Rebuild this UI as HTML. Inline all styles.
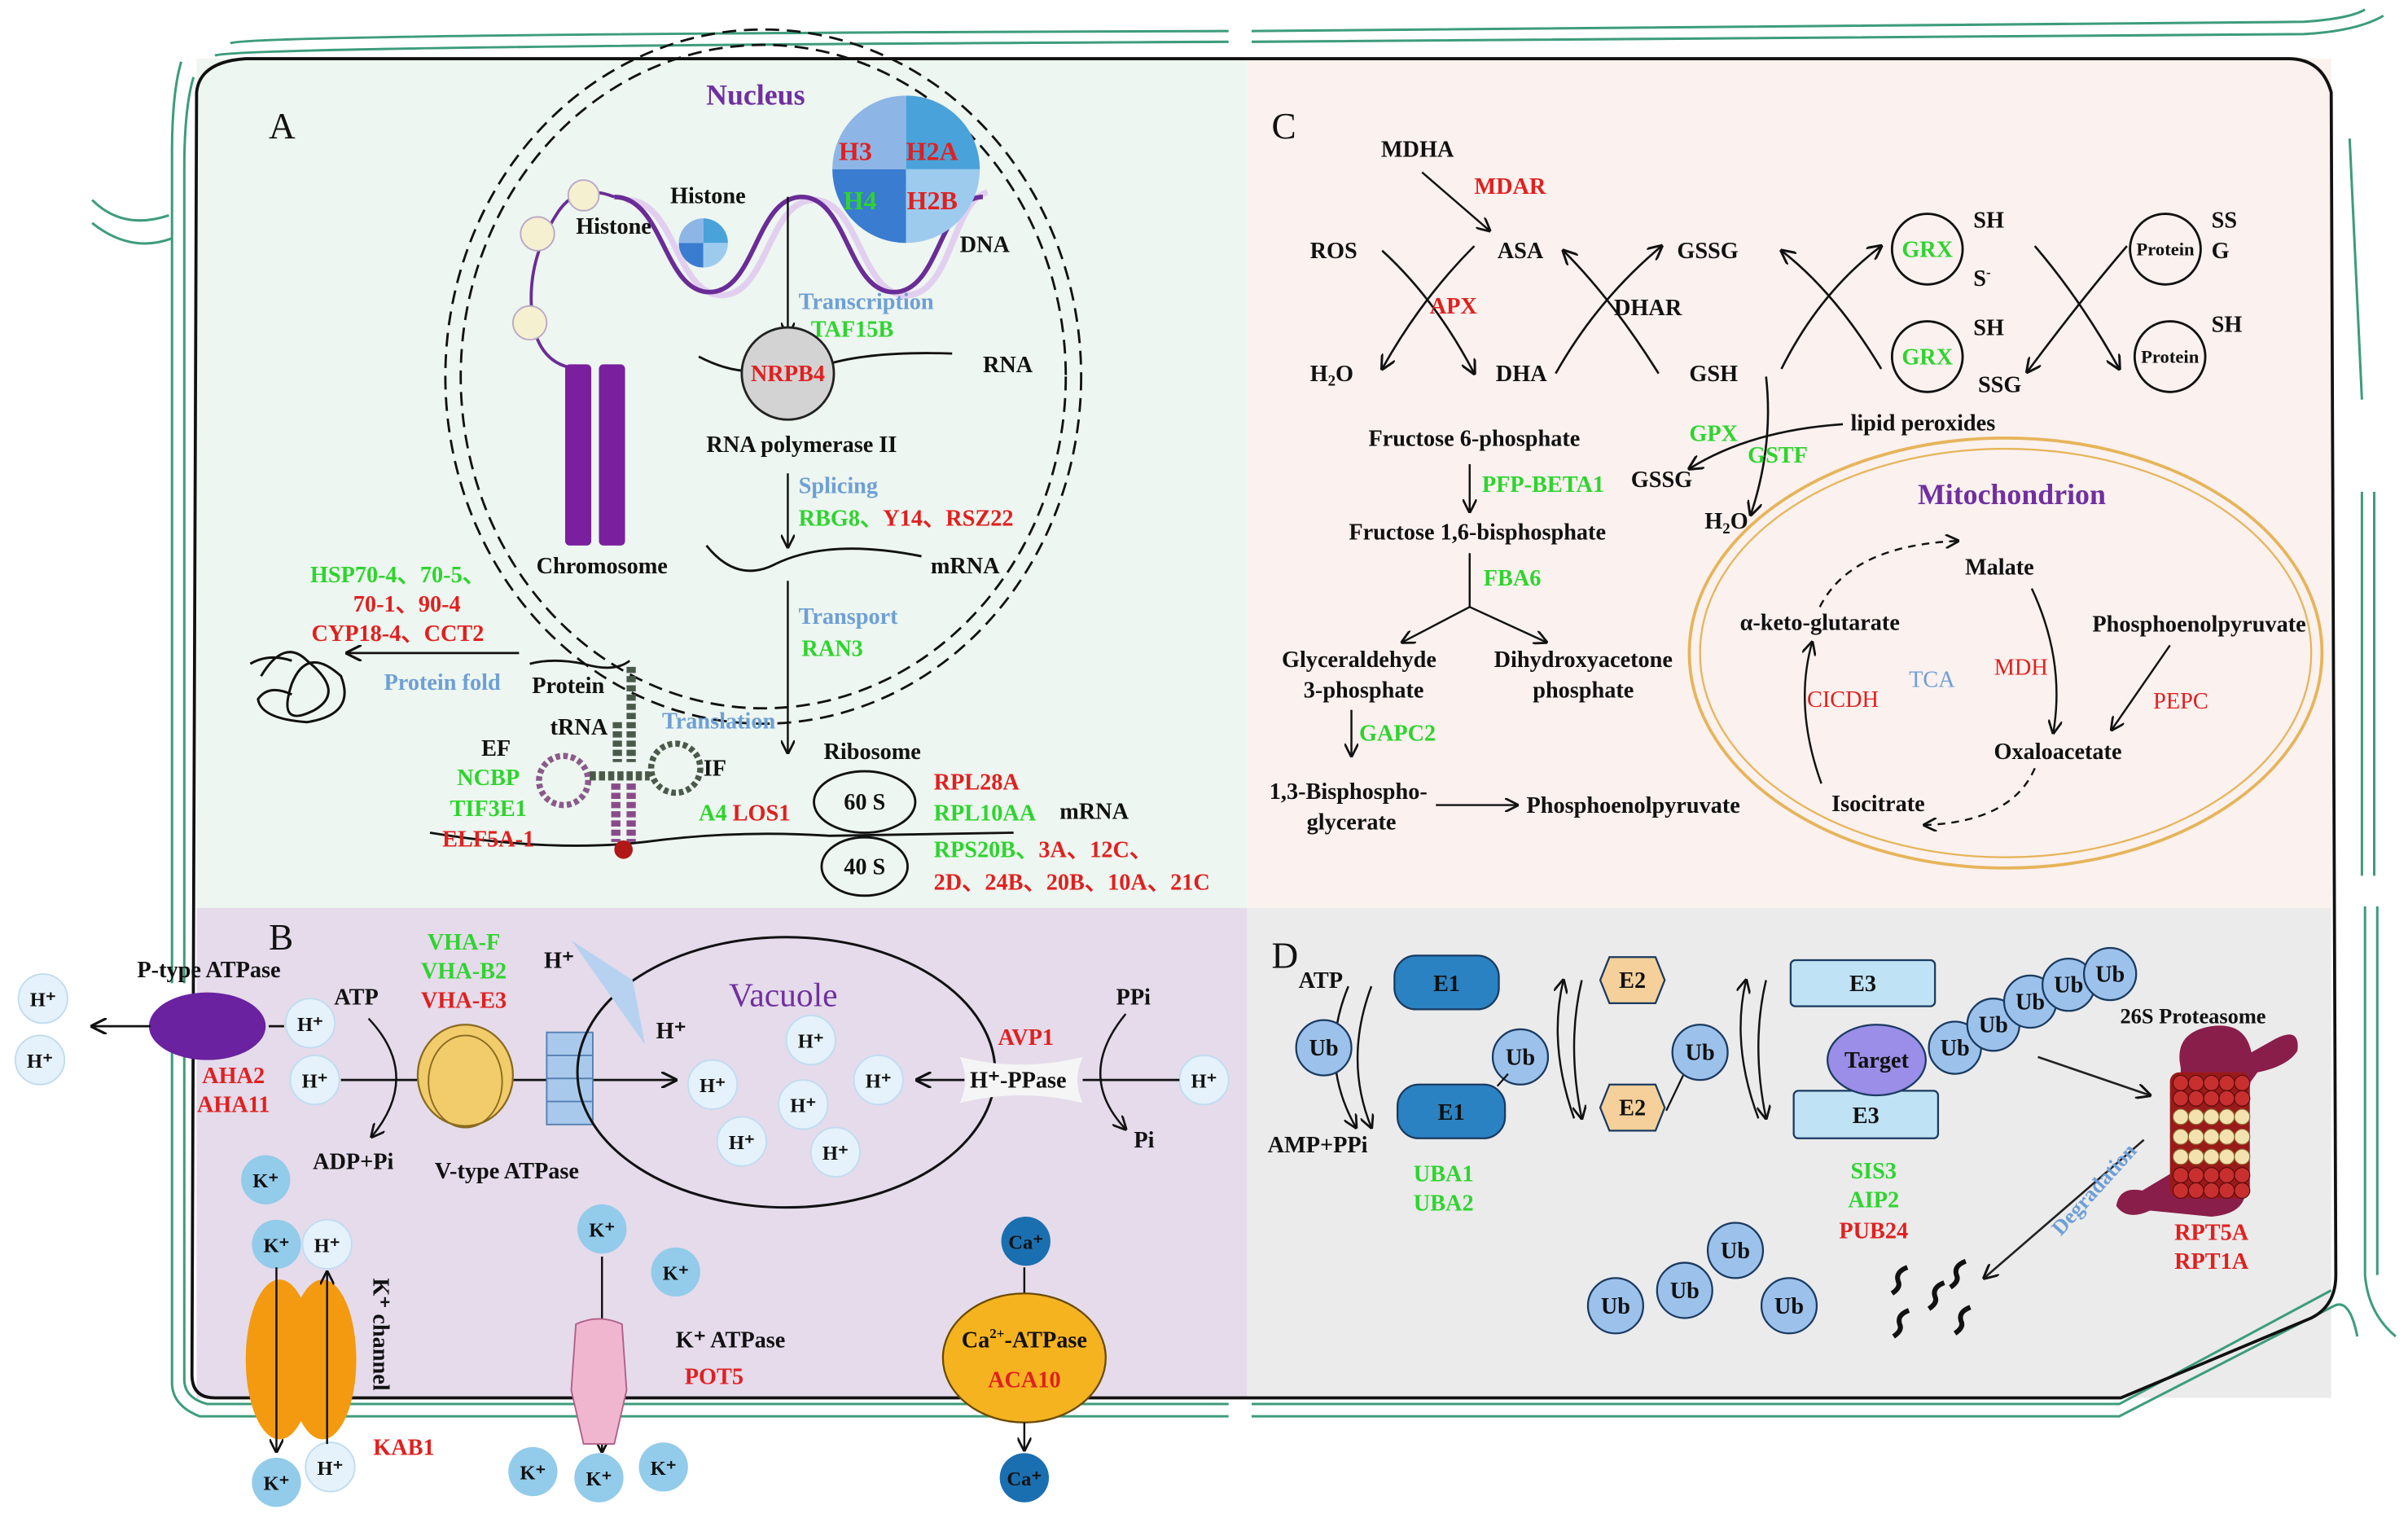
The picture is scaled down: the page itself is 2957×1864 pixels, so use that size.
<!DOCTYPE html>
<html><head><meta charset="utf-8"><style>
html,body{margin:0;padding:0;background:#fff}
svg{display:block}
text{font-family:"Liberation Serif",serif;font-weight:bold;font-size:15px;fill:#111}
.g{fill:#2ed42e}.r{fill:#e0201f}.b{fill:#6e9fd6}.p{fill:#7030a0}
.n{font-weight:normal}
</style></head><body>
<svg width="2957" height="1864" viewBox="0 0 1568 988" xmlns="http://www.w3.org/2000/svg">
<defs>
<marker id="ar" viewBox="0 0 10 10" refX="9" refY="5" markerWidth="7" markerHeight="7" orient="auto-start-reverse"><path d="M0,0 L10,5 L0,10" fill="none" stroke="#111" stroke-width="1.6"/></marker>
</defs>
<rect x="128" y="38" width="684" height="553" fill="#edf6f0"/>
<rect x="812" y="38" width="706" height="553" fill="#fbf1ee"/>
<rect x="128" y="591" width="684" height="319" fill="#e5dbeb"/>
<rect x="812" y="591" width="706" height="319" fill="#ebebeb"/>
<g fill="none" stroke="#3d9c7c" stroke-width="1.6">
<path d="M150,28 Q160,22 800,20"/><path d="M140,36 Q150,30 800,27"/>
<path d="M815,20 L1500,14 Q1530,12 1540,6"/><path d="M815,27 L1500,22 Q1535,20 1552,10"/>
<path d="M118,40 Q112,60 112,100 L112,640"/><path d="M126,50 Q120,70 120,110 L120,640"/>
<path d="M112,660 L112,900 Q112,915 130,922 L800,922"/><path d="M120,660 L120,898 Q120,910 135,914 L800,914"/>
<path d="M815,914 L1380,914 L1518,840"/><path d="M815,922 L1380,922 L1520,850 Q1530,845 1535,870"/>
<path d="M1530,90 L1538,260"/><path d="M1538,320 L1538,570"/><path d="M1546,320 L1546,570"/>
<path d="M1540,590 L1540,830 Q1542,855 1560,870"/><path d="M1548,590 L1548,830"/>
<path d="M60,130 Q80,150 110,140"/><path d="M60,145 Q85,165 112,155"/>
</g>
<path d="M128,60 Q130,40 160,38 L1490,38 Q1512,38 1518,60 L1521,830 Q1521,850 1505,858 L1381,910 L140,910 Q125,910 125,895 Z" fill="none" stroke="#111" stroke-width="2"/>

<!-- ============ PANEL A ============ -->
<text x="175" y="90" class="n" style="font-size:24px">A</text>
<ellipse cx="497" cy="245" rx="207" ry="226" fill="none" stroke="#111" stroke-width="1.5" stroke-dasharray="9,5"/>
<ellipse cx="497" cy="245" rx="197" ry="216" fill="none" stroke="#111" stroke-width="1.5" stroke-dasharray="9,5"/>
<text x="492" y="68" text-anchor="middle" class="p" style="font-size:19px">Nucleus</text>
<path d="M408,130 C440,130 440,192 470,192 C500,192 500,130 530,130 C560,130 560,192 590,192 C620,192 620,130 643,125" fill="none" stroke="#e2cff0" stroke-width="4"/>
<path d="M400,128 C432,128 432,190 462,190 C492,190 492,128 522,128 C552,128 552,190 582,190 C612,190 612,128 640,128" fill="none" stroke="#6a2c96" stroke-width="3"/>
<g>
<path d="M590,110 L590,62 A48,48 0 0 0 542,110 Z" fill="#8db6e6"/>
<path d="M590,110 L638,110 A48,48 0 0 0 590,62 Z" fill="#4aa2da"/>
<path d="M590,110 L542,110 A48,48 0 0 0 590,158 Z" fill="#3a7cd0"/>
<path d="M590,110 L590,158 A48,48 0 0 0 638,110 Z" fill="#9dcbee"/>
</g>
<text x="557" y="104" class="r" style="font-size:17px" text-anchor="middle">H3</text>
<text x="607" y="104" class="r" style="font-size:17px" text-anchor="middle">H2A</text>
<text x="560" y="136" class="g" style="font-size:17px" text-anchor="middle">H4</text>
<text x="607" y="136" class="r" style="font-size:17px" text-anchor="middle">H2B</text>
<text x="461" y="132" text-anchor="middle">Histone</text>
<g><path d="M458,158 L458,142 A16,16 0 0 0 442,158Z" fill="#8db6e6"/><path d="M458,158 L474,158 A16,16 0 0 0 458,142Z" fill="#4aa2da"/><path d="M458,158 L442,158 A16,16 0 0 0 458,174Z" fill="#3a7cd0"/><path d="M458,158 L458,174 A16,16 0 0 0 474,158Z" fill="#9dcbee"/></g>
<text x="625" y="164">DNA</text>
<path d="M400,128 Q375,118 362,140 Q340,175 348,215 Q355,240 380,240" fill="none" stroke="#6a2c96" stroke-width="2"/>
<circle cx="380" cy="127" r="10" fill="#f5f0d0" stroke="#b9a8c8"/><circle cx="350" cy="152" r="11" fill="#f5f0d0" stroke="#b9a8c8"/><circle cx="345" cy="210" r="11" fill="#f5f0d0" stroke="#b9a8c8"/>
<text x="375" y="152">Histone</text>
<rect x="368" y="237" width="17" height="118" rx="3" fill="#7a1f9e"/><rect x="390" y="237" width="17" height="118" rx="3" fill="#7a1f9e"/>
<text x="392" y="373" text-anchor="middle">Chromosome</text>
<line x1="513" y1="128" x2="513" y2="218" stroke="#111" stroke-width="1.3" marker-end="url(#ar)"/>
<text x="520" y="201" class="b">Transcription</text>
<text x="528" y="219" class="g">TAF15B</text>
<path d="M455,232 Q480,245 500,240 M530,240 Q560,228 620,230" fill="none" stroke="#111" stroke-width="1.5"/>
<circle cx="513" cy="243" r="30" fill="#d3d3d3" stroke="#222" stroke-width="1.5"/>
<text x="513" y="248" text-anchor="middle" class="r">NRPB4</text>
<text x="640" y="242">RNA</text>
<text x="522" y="294" text-anchor="middle">RNA polymerase II</text>
<line x1="513" y1="308" x2="513" y2="356" stroke="#111" stroke-width="1.3" marker-end="url(#ar)"/>
<text x="520" y="321" class="b">Splicing</text>
<text x="520" y="342"><tspan class="g">RBG8、</tspan><tspan class="r">Y14、RSZ22</tspan></text>
<path d="M460,355 Q480,380 505,367 Q540,350 600,362" fill="none" stroke="#111" stroke-width="1.5"/>
<text x="606" y="373">mRNA</text>
<line x1="513" y1="378" x2="513" y2="490" stroke="#111" stroke-width="1.3" marker-end="url(#ar)"/>
<text x="520" y="406" class="b">Transport</text>
<text x="522" y="427" class="g">RAN3</text>
<text x="468" y="474" text-anchor="middle" class="b">Translation</text>
<text x="568" y="494" text-anchor="middle">Ribosome</text>
<path d="M280,542 Q360,555 420,548 Q480,540 540,544 L660,542" fill="none" stroke="#111" stroke-width="1.5"/>
<ellipse cx="563" cy="522" rx="33" ry="20" fill="#edf6f0" stroke="#111" stroke-width="1.5"/>
<ellipse cx="563" cy="564" rx="28" ry="19" fill="#edf6f0" stroke="#111" stroke-width="1.5"/>
<text x="563" y="527" text-anchor="middle">60 S</text><text x="563" y="569" text-anchor="middle">40 S</text>
<text x="690" y="533">mRNA</text>
<text x="608" y="514" class="r">RPL28A</text>
<text x="608" y="534" class="g">RPL10AA</text>
<text x="608" y="558"><tspan class="g">RPS20B、</tspan><tspan class="r">3A、12C、</tspan></text>
<text x="608" y="579" class="r">2D、24B、20B、10A、21C</text>
<text x="458" y="505">IF</text>
<text x="455" y="534"><tspan class="g">A4 </tspan><tspan class="r">LOS1</tspan></text>
<text x="323" y="492" text-anchor="middle">EF</text>
<text x="318" y="511" text-anchor="middle" class="g">NCBP</text>
<text x="318" y="531" text-anchor="middle" class="g">TIF3E1</text>
<text x="318" y="551" text-anchor="middle" class="r">ELF5A-1</text>
<text x="377" y="478" text-anchor="middle">tRNA</text>
<text x="370" y="451" text-anchor="middle">Protein</text>
<g fill="none">
<line x1="411" y1="434" x2="411" y2="496" stroke="#4a5a4a" stroke-width="6" stroke-dasharray="4,2"/>
<line x1="402" y1="470" x2="402" y2="496" stroke="#4a5a4a" stroke-width="6" stroke-dasharray="4,2"/>
<circle cx="367" cy="508" r="16" stroke="#8a5a8a" stroke-width="4" stroke-dasharray="3,2"/>
<circle cx="440" cy="500" r="16" stroke="#4a5a4a" stroke-width="4" stroke-dasharray="3,2"/>
<line x1="384" y1="505" x2="423" y2="505" stroke="#4a5a4a" stroke-width="6" stroke-dasharray="4,2"/>
<line x1="401" y1="510" x2="401" y2="548" stroke="#8a4a8a" stroke-width="6" stroke-dasharray="4,2"/>
<line x1="411" y1="510" x2="411" y2="548" stroke="#8a4a8a" stroke-width="6" stroke-dasharray="4,2"/>
<circle cx="406" cy="553" r="6" fill="#b01818"/>
</g>
<path d="M345,432 Q360,428 380,432 Q400,438 410,430" fill="none" stroke="#111" stroke-width="1.5"/>
<line x1="338" y1="425" x2="226" y2="425" stroke="#111" stroke-width="1.5" marker-end="url(#ar)"/>
<text x="288" y="449" text-anchor="middle" class="b">Protein fold</text>
<text x="259" y="379" text-anchor="middle" class="g">HSP70-4、70-5、</text>
<text x="265" y="398" text-anchor="middle" class="r">70-1、90-4</text>
<text x="259" y="417" text-anchor="middle" class="r">CYP18-4、CCT2</text>
<path d="M170,440 Q185,415 200,430 Q225,450 205,462 Q180,475 190,445 Q200,420 222,440 Q232,465 200,470 Q170,468 168,455 Q175,445 190,452 M190,430 Q175,425 163,432" fill="none" stroke="#111" stroke-width="1.6"/>

<!-- ============ PANEL C ============ -->
<text x="828" y="90" class="n" style="font-size:24px">C</text>
<text x="923" y="102" text-anchor="middle">MDHA</text>
<text x="960" y="126" class="r">MDAR</text>
<line x1="926" y1="112" x2="970" y2="150" stroke="#111" stroke-width="1.3" marker-end="url(#ar)"/>
<text x="853" y="168">ROS</text><text x="975" y="168">ASA</text>
<text x="853" y="248">H<tspan style="font-size:10px" dy="3">2</tspan><tspan dy="-3">O</tspan></text>
<text x="974" y="248">DHA</text>
<path d="M900,163 Q935,195 960,243" fill="none" stroke="#111" stroke-width="1.4" marker-end="url(#ar)"/>
<path d="M960,160 Q925,195 900,240" fill="none" stroke="#111" stroke-width="1.4" marker-end="url(#ar)"/>
<text x="931" y="204" class="r">APX</text>
<path d="M1013,243 Q1040,195 1082,160" fill="none" stroke="#111" stroke-width="1.4" marker-end="url(#ar)"/>
<path d="M1080,243 Q1050,195 1018,163" fill="none" stroke="#111" stroke-width="1.4" marker-end="url(#ar)"/>
<text x="1051" y="205">DHAR</text>
<text x="1092" y="168">GSSG</text><text x="1100" y="248">GSH</text>
<path d="M1160,240 Q1185,190 1225,160" fill="none" stroke="#111" stroke-width="1.4" marker-end="url(#ar)"/>
<path d="M1225,240 Q1195,190 1160,163" fill="none" stroke="#111" stroke-width="1.4" marker-end="url(#ar)"/>
<circle cx="1255" cy="162" r="23" fill="none" stroke="#111" stroke-width="1.5"/>
<circle cx="1255" cy="232" r="23" fill="none" stroke="#111" stroke-width="1.5"/>
<text x="1255" y="167" text-anchor="middle" class="g">GRX</text><text x="1255" y="237" text-anchor="middle" class="g">GRX</text>
<text x="1285" y="148">SH</text><text x="1285" y="186">S<tspan style="font-size:9px" dy="-6">-</tspan></text>
<text x="1285" y="218">SH</text><text x="1288" y="255">SSG</text>
<path d="M1325,160 Q1355,195 1380,240" fill="none" stroke="#111" stroke-width="1.4" marker-end="url(#ar)"/>
<path d="M1385,160 Q1355,195 1320,242" fill="none" stroke="#111" stroke-width="1.4" marker-end="url(#ar)"/>
<circle cx="1410" cy="162" r="23" fill="none" stroke="#111" stroke-width="1.5"/>
<circle cx="1413" cy="232" r="23" fill="none" stroke="#111" stroke-width="1.5"/>
<text x="1410" y="166" text-anchor="middle" style="font-size:12px">Protein</text><text x="1413" y="236" text-anchor="middle" style="font-size:12px">Protein</text>
<text x="1440" y="148">SS</text><text x="1440" y="168">G</text><text x="1440" y="216">SH</text>
<path d="M1150,245 Q1155,290 1140,335" fill="none" stroke="#111" stroke-width="1.4" marker-end="url(#ar)"/>
<path d="M1200,276 Q1140,280 1100,305" fill="none" stroke="#111" stroke-width="1.4" marker-end="url(#ar)"/>
<text x="1100" y="287" class="g">GPX</text>
<text x="1205" y="280">lipid peroxides</text>
<text x="1138" y="301" class="g">GSTF</text>
<text x="1062" y="317">GSSG</text>
<text x="1110" y="344">H<tspan style="font-size:10px" dy="3">2</tspan><tspan dy="-3">O</tspan></text>
<text x="960" y="290" text-anchor="middle">Fructose 6-phosphate</text>
<line x1="957" y1="302" x2="957" y2="333" stroke="#111" stroke-width="1.3" marker-end="url(#ar)"/>
<text x="965" y="320" class="g">PFP-BETA1</text>
<text x="962" y="351" text-anchor="middle">Fructose 1,6-bisphosphate</text>
<line x1="957" y1="360" x2="957" y2="395" stroke="#111" stroke-width="1.3"/>
<line x1="957" y1="395" x2="913" y2="418" stroke="#111" stroke-width="1.3" marker-end="url(#ar)"/>
<line x1="957" y1="395" x2="1007" y2="418" stroke="#111" stroke-width="1.3" marker-end="url(#ar)"/>
<text x="966" y="381" class="g">FBA6</text>
<text x="885" y="434" text-anchor="middle">Glyceraldehyde</text><text x="888" y="454" text-anchor="middle">3-phosphate</text>
<text x="1031" y="434" text-anchor="middle">Dihydroxyacetone</text><text x="1031" y="454" text-anchor="middle">phosphate</text>
<line x1="880" y1="462" x2="880" y2="492" stroke="#111" stroke-width="1.3" marker-end="url(#ar)"/>
<text x="885" y="482" class="g">GAPC2</text>
<text x="878" y="520" text-anchor="middle">1,3-Bisphospho-</text><text x="880" y="540" text-anchor="middle">glycerate</text>
<line x1="935" y1="524" x2="988" y2="524" stroke="#111" stroke-width="1.3" marker-end="url(#ar)"/>
<text x="994" y="529">Phosphoenolpyruvate</text>
<ellipse cx="1306" cy="425" rx="206" ry="140" fill="none" stroke="#e6b45a" stroke-width="2"/>
<ellipse cx="1306" cy="425" rx="199" ry="133" fill="none" stroke="#e6b45a" stroke-width="1.2"/>
<text x="1310" y="328" text-anchor="middle" class="p" style="font-size:19px">Mitochondrion</text>
<text x="1302" y="374" text-anchor="middle">Malate</text>
<text x="1185" y="410" text-anchor="middle">α-keto-glutarate</text>
<text x="1432" y="411" text-anchor="middle">Phosphoenolpyruvate</text>
<text x="1200" y="460" text-anchor="middle" class="r n">CICDH</text>
<text x="1258" y="447" text-anchor="middle" class="b n">TCA</text>
<text x="1316" y="439" text-anchor="middle" class="r n">MDH</text>
<text x="1420" y="461" text-anchor="middle" class="r n">PEPC</text>
<text x="1340" y="494" text-anchor="middle">Oxaloacetate</text>
<text x="1223" y="528" text-anchor="middle">Isocitrate</text>
<path d="M1185,395 Q1205,355 1275,352" fill="none" stroke="#111" stroke-width="1.3" stroke-dasharray="5,4" marker-end="url(#ar)"/>
<path d="M1323,383 Q1345,430 1337,477" fill="none" stroke="#111" stroke-width="1.3" marker-end="url(#ar)"/>
<path d="M1413,420 L1375,475" fill="none" stroke="#111" stroke-width="1.3" marker-end="url(#ar)"/>
<path d="M1325,500 Q1310,535 1253,537" fill="none" stroke="#111" stroke-width="1.3" stroke-dasharray="5,4" marker-end="url(#ar)"/>
<path d="M1186,510 Q1168,460 1180,418" fill="none" stroke="#111" stroke-width="1.3" marker-end="url(#ar)"/>

<!-- ============ PANEL B ============ -->
<text x="175" y="618" class="n" style="font-size:24px">B</text>
<text x="136" y="636" text-anchor="middle">P-type ATPase</text>
<circle cx="28" cy="650" r="16" fill="#e5f2fb" stroke="#c0dcf0"/><text x="28" y="655" text-anchor="middle" style="font-size:13px">H⁺</text>
<circle cx="26" cy="690" r="16" fill="#e5f2fb" stroke="#c0dcf0"/><text x="26" y="695" text-anchor="middle" style="font-size:13px">H⁺</text>
<ellipse cx="135" cy="668" rx="38" ry="22" fill="#6a22a0"/>
<line x1="98" y1="668" x2="60" y2="668" stroke="#111" stroke-width="1.5" marker-end="url(#ar)"/>
<line x1="175" y1="668" x2="185" y2="668" stroke="#111" stroke-width="1.5"/>
<text x="152" y="705" text-anchor="middle" class="r">AHA2</text><text x="152" y="724" text-anchor="middle" class="r">AHA11</text>
<circle cx="202" cy="666" r="16" fill="#e5f2fb" stroke="#c0dcf0"/><text x="202" y="671" text-anchor="middle" style="font-size:13px">H⁺</text>
<circle cx="205" cy="703" r="16" fill="#e5f2fb" stroke="#c0dcf0"/><text x="205" y="708" text-anchor="middle" style="font-size:13px">H⁺</text>
<text x="232" y="654" text-anchor="middle">ATP</text>
<text x="230" y="761" text-anchor="middle">ADP+Pi</text>
<path d="M240,663 Q275,700 242,740" fill="none" stroke="#111" stroke-width="1.3" marker-end="url(#ar)"/>
<text x="302" y="618" text-anchor="middle" class="g">VHA-F</text>
<text x="302" y="637" text-anchor="middle" class="g">VHA-B2</text>
<text x="302" y="656" text-anchor="middle" class="r">VHA-E3</text>
<line x1="222" y1="703" x2="440" y2="703" stroke="#111" stroke-width="1.5" marker-end="url(#ar)"/>
<ellipse cx="303" cy="700" rx="31" ry="33" fill="#f2cc6a" stroke="#8a6a20" stroke-width="1.2"/>
<ellipse cx="303" cy="704" rx="24" ry="30" fill="none" stroke="#8a6a20" stroke-width="1"/>
<rect x="356" y="672" width="30" height="60" fill="#a9c9ec" stroke="#5580b0"/>
<line x1="356" y1="687" x2="386" y2="687" stroke="#5580b0"/><line x1="356" y1="702" x2="386" y2="702" stroke="#5580b0"/><line x1="356" y1="717" x2="386" y2="717" stroke="#5580b0"/>
<text x="330" y="767" text-anchor="middle">V-type ATPase</text>
<ellipse cx="512" cy="698" rx="136" ry="88" fill="none" stroke="#111" stroke-width="1.6"/>
<path d="M372,612 L412,638 L420,680 Z" fill="#b6d2f0"/>
<text x="364" y="630" text-anchor="middle">H⁺</text>
<text x="437" y="676" text-anchor="middle">H⁺</text>
<text x="510" y="655" text-anchor="middle" class="p n" style="font-size:22px">Vacuole</text>
<g>
<circle cx="464" cy="706" r="16" fill="#e5f2fb" stroke="#c0dcf0"/><text x="464" y="711" text-anchor="middle" style="font-size:13px">H⁺</text>
<circle cx="528" cy="677" r="16" fill="#e5f2fb" stroke="#c0dcf0"/><text x="528" y="682" text-anchor="middle" style="font-size:13px">H⁺</text>
<circle cx="523" cy="719" r="16" fill="#e5f2fb" stroke="#c0dcf0"/><text x="523" y="724" text-anchor="middle" style="font-size:13px">H⁺</text>
<circle cx="572" cy="703" r="16" fill="#e5f2fb" stroke="#c0dcf0"/><text x="572" y="708" text-anchor="middle" style="font-size:13px">H⁺</text>
<circle cx="483" cy="743" r="16" fill="#e5f2fb" stroke="#c0dcf0"/><text x="483" y="748" text-anchor="middle" style="font-size:13px">H⁺</text>
<circle cx="544" cy="750" r="16" fill="#e5f2fb" stroke="#c0dcf0"/><text x="544" y="755" text-anchor="middle" style="font-size:13px">H⁺</text>
<circle cx="784" cy="703" r="16" fill="#e5f2fb" stroke="#c0dcf0"/><text x="784" y="708" text-anchor="middle" style="font-size:13px">H⁺</text>
</g>
<path d="M625,688 Q665,698 705,688 Q698,703 705,718 Q665,708 625,718 Q632,703 625,688Z" fill="#f5f5f5"/>
<text x="663" y="708" text-anchor="middle">H⁺-PPase</text>
<text x="668" y="680" text-anchor="middle" class="r">AVP1</text>
<line x1="628" y1="703" x2="597" y2="703" stroke="#111" stroke-width="1.5" marker-end="url(#ar)"/>
<line x1="705" y1="703" x2="768" y2="703" stroke="#111" stroke-width="1.5"/>
<text x="738" y="654" text-anchor="middle">PPi</text><text x="745" y="747" text-anchor="middle">Pi</text>
<path d="M733,660 Q700,700 733,735" fill="none" stroke="#111" stroke-width="1.3" marker-end="url(#ar)"/>
<g>
<circle cx="173" cy="768" r="16" fill="#93cbea"/><text x="173" y="773" text-anchor="middle" style="font-size:13px">K⁺</text>
<circle cx="180" cy="810" r="16" fill="#93cbea"/><text x="180" y="815" text-anchor="middle" style="font-size:13px">K⁺</text>
<circle cx="213" cy="810" r="16" fill="#e5f2fb" stroke="#c0dcf0"/><text x="213" y="815" text-anchor="middle" style="font-size:13px">H⁺</text>
<circle cx="180" cy="965" r="16" fill="#93cbea"/><text x="180" y="970" text-anchor="middle" style="font-size:13px">K⁺</text>
<circle cx="215" cy="955" r="16" fill="#e5f2fb" stroke="#c0dcf0"/><text x="215" y="960" text-anchor="middle" style="font-size:13px">H⁺</text>
<circle cx="392" cy="800" r="16" fill="#93cbea"/><text x="392" y="805" text-anchor="middle" style="font-size:13px">K⁺</text>
<circle cx="440" cy="828" r="16" fill="#93cbea"/><text x="440" y="833" text-anchor="middle" style="font-size:13px">K⁺</text>
<circle cx="347" cy="958" r="16" fill="#93cbea"/><text x="347" y="963" text-anchor="middle" style="font-size:13px">K⁺</text>
<circle cx="390" cy="962" r="16" fill="#93cbea"/><text x="390" y="967" text-anchor="middle" style="font-size:13px">K⁺</text>
<circle cx="432" cy="955" r="16" fill="#93cbea"/><text x="432" y="960" text-anchor="middle" style="font-size:13px">K⁺</text>
<circle cx="668" cy="808" r="16" fill="#1a6fb0"/><text x="668" y="813" text-anchor="middle" style="font-size:13px">Ca⁺</text>
<circle cx="667" cy="962" r="16" fill="#1a6fb0"/><text x="667" y="967" text-anchor="middle" style="font-size:13px">Ca⁺</text>
</g>
<ellipse cx="182" cy="885" rx="22" ry="52" fill="#f39a10"/>
<ellipse cx="210" cy="885" rx="22" ry="52" fill="#f39a10"/>
<line x1="180" y1="825" x2="180" y2="945" stroke="#111" stroke-width="1.3" marker-end="url(#ar)"/>
<line x1="213" y1="940" x2="213" y2="828" stroke="#111" stroke-width="1.3" marker-end="url(#ar)"/>
<text x="0" y="0" transform="translate(243,832) rotate(90)">K⁺ channel</text>
<text x="263" y="947" text-anchor="middle" class="r">KAB1</text>
<line x1="392" y1="818" x2="392" y2="945" stroke="#111" stroke-width="1.3" marker-end="url(#ar)"/>
<path d="M375,862 Q390,855 405,862 L408,905 L400,940 L380,940 L372,905 Z" fill="#f0b6d0" stroke="#b06088" stroke-width="1"/>
<text x="440" y="877">K⁺ ATPase</text>
<text x="465" y="901" text-anchor="middle" class="r">POT5</text>
<line x1="667" y1="825" x2="667" y2="845" stroke="#111" stroke-width="1.3"/>
<ellipse cx="667" cy="884" rx="53" ry="42" fill="#f5b320" stroke="#6a4a00" stroke-width="1.2"/>
<text x="667" y="877" text-anchor="middle">Ca<tspan style="font-size:9px" dy="-6">2+</tspan><tspan dy="6">-ATPase</tspan></text>
<text x="667" y="903" text-anchor="middle" class="r">ACA10</text>
<line x1="667" y1="926" x2="667" y2="944" stroke="#111" stroke-width="1.3" marker-end="url(#ar)"/>

<!-- ============ PANEL D ============ -->
<text x="828" y="630" class="n" style="font-size:24px">D</text>
<text x="860" y="643" text-anchor="middle">ATP</text>
<text x="858" y="750" text-anchor="middle">AMP+PPi</text>
<path d="M878,642 Q858,690 883,734" fill="none" stroke="#111" stroke-width="1.3" marker-end="url(#ar)"/>
<path d="M893,642 Q875,690 893,734" fill="none" stroke="#111" stroke-width="1.3" marker-end="url(#ar)"/>
<g stroke="#1a3a60" stroke-width="1.2">
<circle cx="862" cy="682" r="18" fill="#9cc2ec"/>
<rect x="908" y="622" width="68" height="35" rx="14" fill="#2a82c2"/>
<rect x="910" y="706" width="70" height="35" rx="14" fill="#2a82c2"/>
<circle cx="990" cy="688" r="18" fill="#9cc2ec"/>
<polygon points="1048,623 1078,623 1084,638 1078,653 1048,653 1042,638" fill="#f6d09a"/>
<polygon points="1048,706 1078,706 1084,721 1078,736 1048,736 1042,721" fill="#f6d09a"/>
<circle cx="1107" cy="685" r="18" fill="#9cc2ec"/>
<rect x="1166" y="625" width="94" height="30" rx="3" fill="#bfe2f5"/>
<rect x="1168" y="710" width="94" height="31" rx="3" fill="#bfe2f5"/>
<ellipse cx="1222" cy="690" rx="32" ry="23" fill="#9a8ee8"/>
<circle cx="1273" cy="682" r="17" fill="#9cc2ec"/>
<circle cx="1298" cy="667" r="17" fill="#9cc2ec"/>
<circle cx="1322" cy="652" r="17" fill="#9cc2ec"/>
<circle cx="1347" cy="641" r="17" fill="#9cc2ec"/>
<circle cx="1374" cy="634" r="17" fill="#9cc2ec"/>
<circle cx="1052" cy="850" r="18" fill="#9cc2ec"/>
<circle cx="1097" cy="840" r="18" fill="#9cc2ec"/>
<circle cx="1130" cy="814" r="18" fill="#9cc2ec"/>
<circle cx="1165" cy="850" r="18" fill="#9cc2ec"/>
</g>
<g style="font-size:14px">
<text x="862" y="687" text-anchor="middle">Ub</text>
<text x="942" y="645" text-anchor="middle">E1</text><text x="945" y="729" text-anchor="middle">E1</text>
<text x="990" y="693" text-anchor="middle">Ub</text>
<text x="1063" y="643" text-anchor="middle">E2</text><text x="1063" y="726" text-anchor="middle">E2</text>
<text x="1107" y="690" text-anchor="middle">Ub</text>
<text x="1213" y="645" text-anchor="middle">E3</text><text x="1215" y="731" text-anchor="middle">E3</text>
<text x="1222" y="695" text-anchor="middle">Target</text>
<text x="1273" y="687" text-anchor="middle">Ub</text><text x="1298" y="672" text-anchor="middle">Ub</text><text x="1322" y="657" text-anchor="middle">Ub</text><text x="1347" y="646" text-anchor="middle">Ub</text><text x="1374" y="639" text-anchor="middle">Ub</text>
<text x="1052" y="855" text-anchor="middle">Ub</text><text x="1097" y="845" text-anchor="middle">Ub</text><text x="1130" y="819" text-anchor="middle">Ub</text><text x="1165" y="855" text-anchor="middle">Ub</text>
</g>
<path d="M975,707 L982,699" stroke="#111" stroke-width="1.2"/>
<path d="M1085,723 L1096,700" stroke="#111" stroke-width="1.2"/>
<path d="M1018,638 Q1008,680 1025,728" fill="none" stroke="#111" stroke-width="1.3" marker-start="url(#ar)"/>
<path d="M1030,638 Q1020,680 1030,728" fill="none" stroke="#111" stroke-width="1.3" marker-end="url(#ar)"/>
<path d="M1137,638 Q1127,680 1145,728" fill="none" stroke="#111" stroke-width="1.3" marker-start="url(#ar)"/>
<path d="M1150,638 Q1140,680 1150,728" fill="none" stroke="#111" stroke-width="1.3" marker-end="url(#ar)"/>
<text x="940" y="769" text-anchor="middle" class="g">UBA1</text><text x="940" y="788" text-anchor="middle" class="g">UBA2</text>
<text x="1220" y="767" text-anchor="middle" class="g">SIS3</text><text x="1220" y="786" text-anchor="middle" class="g">AIP2</text><text x="1220" y="806" text-anchor="middle" class="r">PUB24</text>
<text x="1428" y="666" text-anchor="middle" style="font-size:14px">26S Proteasome</text>
<line x1="1327" y1="688" x2="1400" y2="713" stroke="#222" stroke-width="1.4" marker-end="url(#ar)"/>
<line x1="1396" y1="742" x2="1292" y2="832" stroke="#222" stroke-width="1.4" marker-end="url(#ar)"/>
<text x="0" y="0" transform="translate(1342,805) rotate(-48)" class="b" style="font-size:14px">Degradation</text>
<path d="M1420,695 Q1415,672 1440,668 Q1462,665 1466,685 L1482,676 Q1498,668 1496,684 Q1490,694 1470,698 L1465,705 L1420,705 Z" fill="#8a1e4a"/>
<path d="M1420,760 L1395,775 Q1380,772 1378,785 Q1385,795 1400,788 L1440,792 Q1465,790 1462,770 Z" fill="#8a1e4a"/>
<rect x="1413" y="698" width="52" height="82" rx="6" fill="#9a1a1a"/>
<g fill="#c83030" stroke="#5a0a0a" stroke-width="0.6">
<circle cx="1420" cy="705" r="5"/><circle cx="1430" cy="705" r="5"/><circle cx="1440" cy="705" r="5"/><circle cx="1450" cy="705" r="5"/><circle cx="1460" cy="705" r="5"/>
<circle cx="1420" cy="715" r="5"/><circle cx="1430" cy="715" r="5"/><circle cx="1440" cy="715" r="5"/><circle cx="1450" cy="715" r="5"/><circle cx="1460" cy="715" r="5"/>
<circle cx="1420" cy="765" r="5"/><circle cx="1430" cy="765" r="5"/><circle cx="1440" cy="765" r="5"/><circle cx="1450" cy="765" r="5"/><circle cx="1460" cy="765" r="5"/>
<circle cx="1420" cy="775" r="5"/><circle cx="1430" cy="775" r="5"/><circle cx="1440" cy="775" r="5"/><circle cx="1450" cy="775" r="5"/><circle cx="1460" cy="775" r="5"/>
</g>
<g fill="#f3e2b0" stroke="#8a6a30" stroke-width="0.6">
<circle cx="1420" cy="727" r="5"/><circle cx="1430" cy="727" r="5"/><circle cx="1440" cy="727" r="5"/><circle cx="1450" cy="727" r="5"/><circle cx="1460" cy="727" r="5"/>
<circle cx="1420" cy="740" r="5"/><circle cx="1430" cy="740" r="5"/><circle cx="1440" cy="740" r="5"/><circle cx="1450" cy="740" r="5"/><circle cx="1460" cy="740" r="5"/>
<circle cx="1420" cy="753" r="5"/><circle cx="1430" cy="753" r="5"/><circle cx="1440" cy="753" r="5"/><circle cx="1450" cy="753" r="5"/><circle cx="1460" cy="753" r="5"/>
</g>
<text x="1440" y="807" text-anchor="middle" class="r">RPT5A</text><text x="1440" y="826" text-anchor="middle" class="r">RPT1A</text>
<g fill="none" stroke="#111" stroke-width="3.2">
<path d="M1232,842 q6,-4 4,-8 q-2,-6 6,-9"/><path d="M1256,852 q6,-4 4,-8 q-2,-6 6,-9"/><path d="M1270,838 q6,-4 4,-8 q-2,-6 6,-9"/>
<path d="M1233,870 q6,-4 4,-8 q-2,-6 6,-9"/><path d="M1273,868 q6,-4 4,-8 q-2,-6 6,-9"/>
</g>
</svg>
</body></html>
